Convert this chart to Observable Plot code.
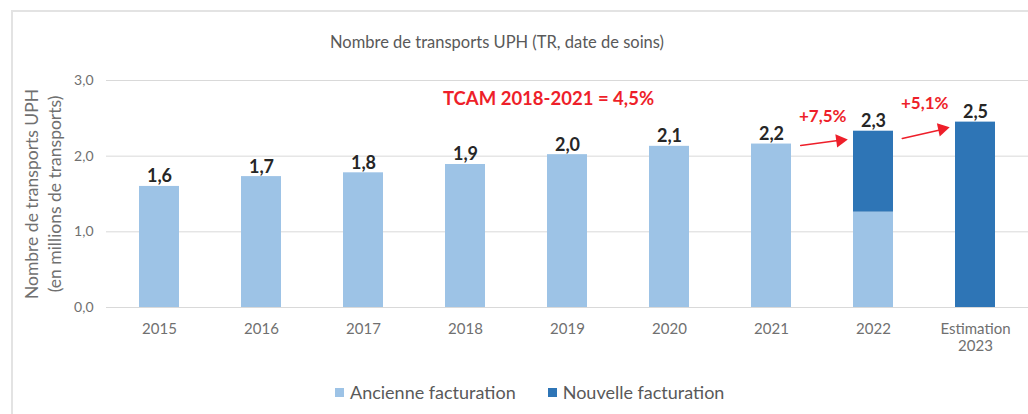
<!DOCTYPE html>
<html><head><meta charset="utf-8">
<script src="https://cdn.jsdelivr.net/npm/d3@7"></script>
<script src="https://cdn.jsdelivr.net/npm/@observablehq/plot@0.6"></script>
<style>
body{margin:0;background:#fff;font-family:Lato,sans-serif;}
#wrap{position:relative;width:1028px;height:414px;overflow:hidden;background:#fff;}
#frame{position:absolute;left:11px;top:10px;width:1100px;height:500px;border-left:2px solid #e3e3e3;border-top:2px solid #e3e3e3;}
#title{position:absolute;left:0;width:994px;top:32px;text-align:center;font-size:16.5px;color:#595959;}
#chart{position:absolute;left:0;top:0;}
#legend{position:absolute;top:381px;left:335px;display:flex;align-items:center;font-size:18px;color:#595959;}
#legend .item{display:flex;align-items:center;margin-right:32px;}
#legend .sw{width:9px;height:9px;margin-right:6px;}
</style>
</head><body>
<div id="wrap"><div id="frame"></div><div id="chart"></div><div id="title"></div><div id="legend"></div></div>
<script>
const categories = ["2015","2016","2017","2018","2019","2020","2021","2022","2023"];
const tickLabels = ["2015","2016","2017","2018","2019","2020","2021","2022","Estimation\n2023"];
const ancienne = [1.60,1.73,1.78,1.89,2.02,2.13,2.16,1.26,0];
const nouvelle = [0,0,0,0,0,0,0,1.07,2.45];
const totalLabels = ["1,6","1,7","1,8","1,9","2,0","2,1","2,2","2,3","2,5"];
const seriesNames = ["Ancienne facturation","Nouvelle facturation"];
const seriesColors = ["#9dc3e6","#2e75b6"];
const yTicks = [0,1,2,3];
const yTitle = "Nombre de transports UPH\n(en millions de transports)";
const titleText = "Nombre de transports UPH (TR, date de soins)";
const tcam = [{x:"2019", y:2.76, text:"TCAM 2018-2021 = 4,5%"}];
const growth = [{from:"2021", y:2.52, text:"+7,5%"},{from:"2022", y:2.70, text:"+5,1%"}];
const arrows = [{from:"2021", to:"2022", y1:2.09, y2:2.27, head:2.208, angle:82.4},
                {from:"2022", to:"2023", y1:2.15, y2:2.45, head:2.359, angle:77.8}];
const red = "#ee1f2a";

const rows = [];
categories.forEach((c,i)=>{
  rows.push({cat:c, series:seriesNames[0], value:ancienne[i]});
  rows.push({cat:c, series:seriesNames[1], value:nouvelle[i]});
});
const totals = categories.map((c,i)=>({cat:c, total:ancienne[i]+nouvelle[i], label:totalLabels[i]}));

const chart = Plot.plot({
  width:1028, height:360,
  marginLeft:106, marginRight:0, marginTop:80, marginBottom:53,
  style:{fontFamily:"Lato, sans-serif", fontSize:"14px", background:"transparent", overflow:"visible"},
  x:{domain:categories, paddingInner:0.61, paddingOuter:0.305, label:null},
  y:{domain:[0,3], label:null},
  color:{domain:seriesNames, range:seriesColors},
  marks:[
    Plot.gridY(yTicks, {stroke:"#d9d9d9", strokeOpacity:1, strokeWidth:1}),
    Plot.axisY({ticks:yTicks, tickSize:0, tickPadding:13, color:"#707070", fontSize:14, label:null,
      tickFormat:d=>d.toFixed(1).replace(".",",")}),
    Plot.axisX({tickSize:0, tickPadding:15, color:"#707070", fontSize:15, lineHeight:1.1, label:null,
      tickFormat:d=>tickLabels[categories.indexOf(d)]}),
    Plot.barY(rows, {x:"cat", y:"value", fill:"series"}),
    Plot.text(totals, {x:"cat", y:"total", text:"label", dy:-4, lineAnchor:"bottom", fontWeight:"bold", fontSize:18, fill:"#262626"}),
    Plot.text(tcam, {x:"x", y:"y", text:"text", dx:-19, fontWeight:"bold", fontSize:18.5, fill:red}),
    Plot.text(growth, {x:"from", y:"y", text:"text", dx:51.2, fontWeight:"bold", fontSize:17, fill:red}),
    Plot.arrow(arrows, {x1:"from", x2:"to", y1:"y1", y2:"y2", insetStart:29.5, insetEnd:32, headLength:0, stroke:red, strokeWidth:1.6}),
    Plot.dot(arrows, {x:"to", y:"head", dx:-33.4, symbol:"triangle", r:5, fill:red, stroke:"none", rotate:"angle"}),
    Plot.text([yTitle], {text:d=>d, frameAnchor:"left", textAnchor:"middle", lineAnchor:"middle", dx:-64, rotate:-90, fontSize:17.5, lineHeight:1.3, fill:"#707070"})
  ]
});
document.getElementById("chart").appendChild(chart);
document.getElementById("title").textContent = titleText;
const leg = document.getElementById("legend");
seriesNames.forEach((n,i)=>{
  const it = document.createElement("div"); it.className="item";
  const sw = document.createElement("div"); sw.className="sw"; sw.style.background=seriesColors[i];
  const tx = document.createElement("span"); tx.textContent=n;
  it.appendChild(sw); it.appendChild(tx); leg.appendChild(it);
});
</script>
</body></html>
